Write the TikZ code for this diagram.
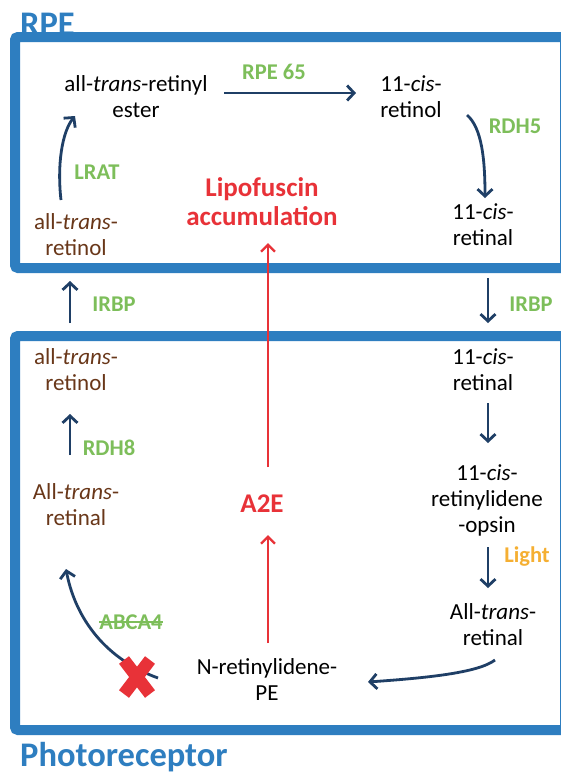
\documentclass[tikz,border=0pt]{standalone}
\usepackage{fontspec}
\setmainfont{Carlito}
\usetikzlibrary{arrows.meta}
\definecolor{boxblue}{RGB}{46,126,192}
\definecolor{navy}{RGB}{31,63,102}
\definecolor{enz}{RGB}{125,190,90}
\definecolor{brn}{RGB}{105,55,25}
\definecolor{redc}{RGB}{232,50,56}
\definecolor{lightc}{RGB}{245,175,50}
\begin{document}
\begin{tikzpicture}[x=1pt,y=-1pt,
 txt/.style={font=\fontsize{23}{26}\selectfont, align=center, inner sep=0pt},
 mol/.style={txt, text=black},
 brmol/.style={txt, text=brn},
 enzyme/.style={txt, font=\fontsize{22.5}{25}\selectfont\bfseries, text=enz},
 redlab/.style={txt, font=\fontsize{27}{29}\selectfont\bfseries, text=redc},
 title/.style={font=\fontsize{34.5}{38}\selectfont\bfseries, text=boxblue, inner sep=0pt, anchor=base west},
 conn/.style={draw=navy, line width=2.8pt, -{Straight Barb[length=7pt,width=15pt]}},
 redarrow/.style={draw=redc, line width=2.4pt, -{Straight Barb[length=7pt,width=14pt]}},
 compart/.style={draw=boxblue, line width=10pt, rounded corners=3pt},
 crossmark/.style={draw=redc, line width=12.5pt}]
\useasboundingbox (0,0) rectangle (561,777);
\clip (0,0) rectangle (561,777);
\fill[white] (0,0) rectangle (561,777);

% titles
\node[title] (rpetitle) at (20,35) {RPE};
\node[title] (prtitle) at (20,766) {Photoreceptor};

% compartments
\draw[compart] (15,37) rectangle (565,268);
\draw[compart] (15,336) rectangle (565,730);

% RPE molecules
\node[mol] (ester) at (136,97) {all-\textit{trans}-retinyl\\ester};
\node[mol] (cisol) at (411,97) {11-\textit{cis}-\\retinol};
\node[mol] (cisal1) at (483,225) {11-\textit{cis}-\\retinal};
\node[brmol] (atol1) at (76,235) {all-\textit{trans}-\\retinol};
\node[redlab] (lipo) at (262,202) {Lipofuscin\\accumulation};

\node[enzyme] (rpe65) at (274,72) {RPE 65};
\node[enzyme] (rdh5) at (515,126) {RDH5};
\node[enzyme] (lrat) at (97,172) {LRAT};

% photoreceptor molecules
\node[brmol] (atol2) at (76,370) {all-\textit{trans}-\\retinol};
\node[brmol] (atal2) at (76,505) {All-\textit{trans}-\\retinal};
\node[mol] (cisal2) at (483,370) {11-\textit{cis}-\\retinal};
\node[mol] (opsin) at (487,500) {11-\textit{cis}-\\retinylidene\\-opsin};
\node[mol] (atal3) at (493,625) {All-\textit{trans}-\\retinal};
\node[mol] (nrpe) at (267,680) {N-retinylidene-\\PE};
\node[redlab] (a2e) at (262,504) {A2E};

\node[enzyme] (irbp1) at (114,304) {IRBP};
\node[enzyme] (irbp2) at (531,304) {IRBP};
\node[enzyme] (rdh8) at (109,448) {RDH8};
\node[txt, font=\fontsize{22.5}{25}\selectfont\bfseries, text=lightc] (light) at (527,557) {Light};
\node[enzyme] (abca) at (131,622) {ABCA4};
\draw[enz, line width=1.3pt] (abca.west) -- (abca.east);

% connector end points
\coordinate (e1) at (224,93);  \coordinate (e2) at (356,93);
\coordinate (r1) at (467,115); \coordinate (r2) at (485,198);
\coordinate (l1) at (61,200);  \coordinate (l2) at (75,116);
\coordinate (i1) at (70,323);  \coordinate (i2) at (70,281);
\coordinate (j1) at (488,278); \coordinate (j2) at (488,323);
\coordinate (d1) at (70,455);  \coordinate (d2) at (70,414);
\coordinate (c1) at (488,403); \coordinate (c2) at (488,443);
\coordinate (g1) at (488,547); \coordinate (g2) at (488,588);
\coordinate (n1) at (495,660); \coordinate (n2) at (368,682);
\coordinate (x1) at (158,678); \coordinate (x2) at (66,569);
\coordinate (p1) at (268,467); \coordinate (p2) at (268,243);
\coordinate (q1) at (268,643); \coordinate (q2) at (268,535);

% connectors
\draw[conn] (e1) -- (e2);
\draw[conn] (r1) .. controls (482,128) and (485,160) .. (r2);
\draw[conn] (l1) .. controls (57,165) and (62,132) .. (l2);
\draw[conn] (i1) -- (i2);
\draw[conn] (j1) -- (j2);
\draw[conn] (d1) -- (d2);
\draw[conn] (c1) -- (c2);
\draw[conn] (g1) -- (g2);
\draw[conn] (n1) .. controls (478,673) and (425,678) .. (n2);
\draw[conn] (x1) .. controls (100,657) and (74,612) .. (x2);
\draw[redarrow] (p1) -- (p2);
\draw[redarrow] (q1) -- (q2);

% red cross
\draw[crossmark] (124,660) -- (150,694);
\draw[crossmark] (150,660) -- (124,694);
\end{tikzpicture}
\end{document}
